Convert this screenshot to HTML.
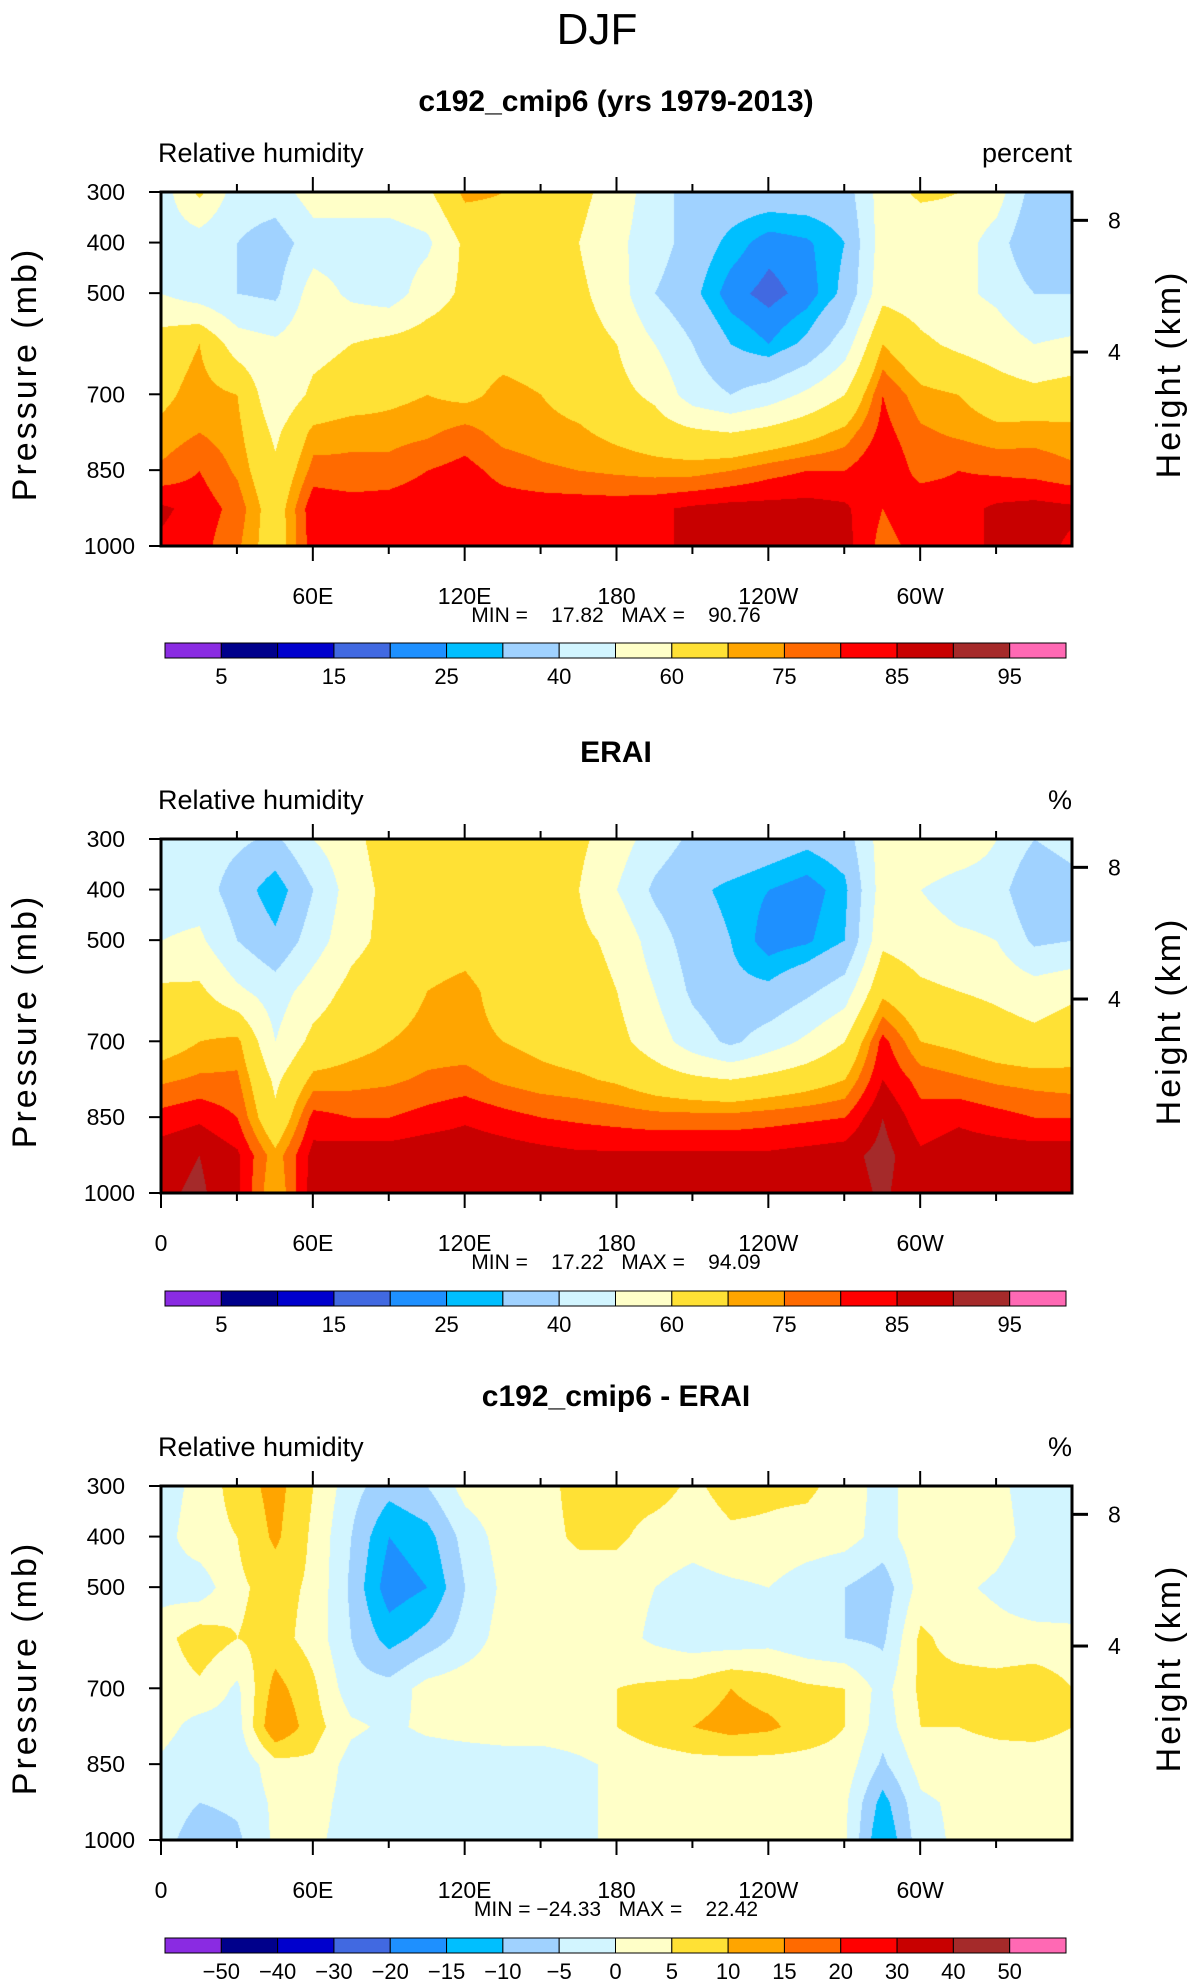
<!DOCTYPE html>
<html><head><meta charset="utf-8">
<style>
html,body{margin:0;padding:0;background:#fff;}
#wrap{position:relative;width:1196px;height:1987px;overflow:hidden;}
canvas{position:absolute;}
svg{position:absolute;left:0;top:0;}
text{font-family:"Liberation Sans",sans-serif;fill:#000;}
.pre{white-space:pre;}
</style></head><body>
<div id="wrap">
<canvas id="c0"></canvas>
<canvas id="c1"></canvas>
<canvas id="c2"></canvas>
<svg id="s" width="1196" height="1987"></svg>
</div>
<script>
const lons=[0,15,30,45,60,75,90,105,120,135,150,165,180,195,210,225,240,255,270,285,300,315,330,345,360];
const pLevels=[300,400,500,600,700,775,850,925,1000];
const modelRH=[
[45,62,45,45,55,55,55,58,72,70,65,63,55,45,35,35,35,35,35,55,62,60,55,35,35],
[45,45,40,35,45,45,45,48,62,65,65,60,52,45,35,28,22,24,30,55,52,55,45,30,35],
[50,45,40,38,55,48,45,55,62,65,65,62,55,40,32,22,18,22,32,57,55,52,48,40,40],
[65,70,55,52,57,60,63,65,66,67,66,64,60,50,40,30,25,32,45,70,62,58,55,50,52],
[68,73,70,52,62,65,68,70,68,72,70,67,63,58,45,40,45,52,60,80,72,70,65,63,65],
[72,75,72,58,72,74,73,74,77,73,72,71,68,65,62,60,63,67,72,82,76,74,72,73,72],
[76,80,74,62,77,76,77,80,82,78,76,75,74,73,73,75,78,80,80,85,78,80,79,78,76],
[86,83,78,65,84,83,83,84,84,83,83,83,83,84,86,87,87,87,86,80,84,83,86,87,86],
[84,82,76,65,83,82,80,82,83,83,83,83,83,84,86,87,87,87,87,78,82,83,86,87,84]];
const eraiRH=[
[50,45,42,38,50,57,65,65,68,64,64,62,55,45,38,38,35,32,35,55,60,58,50,40,45],
[45,45,35,25,40,55,63,65,66,64,64,60,50,38,32,28,25,22,28,55,50,45,45,30,35],
[50,52,40,32,45,57,63,66,67,64,64,62,58,45,35,30,22,24,30,58,55,52,50,38,40],
[62,62,52,45,55,63,66,70,72,67,66,64,60,50,38,32,32,38,45,68,62,60,58,55,58],
[66,70,72,50,63,67,70,72,72,70,68,66,63,55,45,38,45,52,60,82,70,68,65,63,66],
[74,76,76,58,72,73,74,76,77,74,72,71,69,65,62,60,63,66,70,85,78,76,74,73,72],
[82,84,80,62,82,80,80,82,84,82,80,79,78,77,77,77,78,79,80,90,82,84,82,80,80],
[88,90,86,72,87,88,88,89,89,88,87,86,86,86,86,86,86,87,88,92,86,88,88,88,88],
[89,91,86,70,88,89,89,89,89,88,87,87,87,87,87,87,87,87,87,91,86,89,88,89,89]];
const diffRH=[
[-3,2,7,12,5,-3,-8,-5,2,3,3,7,7,7,4,7,6,6,3,-2,3,3,1,-2,-3],
[-2,3,5,11,4,-5,-15,-12,-3,2,3,6,6,3,2,4,4,3,2,-2,3,4,2,-2,-2],
[-2,-3,4,7,4,-6,-18,-15,-5,1,2,2,2,0,-2,-1,0,-3,-5,-8,2,1,-1,-4,-5],
[3,8,5,7,3,-5,-12,-8,-3,2,2,1,2,-1,-3,-3,-2,-4,-5,-6,6,3,2,2,2],
[2,4,-1,12,6,-3,-3,2,3,3,3,3,5,6,7,10,8,6,5,-2,6,7,7,8,5],
[2,-2,-2,15,7,1,-1,1,2,3,3,3,5,8,10,12,11,8,5,-3,5,5,6,7,5],
[-1,-4,-4,3,4,-2,-3,-3,-3,-3,-3,-1,1,2,3,3,3,3,3,-6,2,3,3,2,2],
[-2,-5,-4,1,2,-2,-4,-3,-3,-3,-2,-1,1,1,1,1,1,1,1,-12,-1,1,1,1,1],
[-3,-8,-6,1,1,-2,-3,-3,-3,-3,-2,-1,1,1,1,1,1,1,1,-15,-2,1,1,1,1]];
const rhLevels=[5,10,15,20,25,30,40,50,60,70,75,80,85,90,95];
const rhLabels=["5","15","25","40","60","75","85","95"];
const diffLevels=[-50,-40,-30,-20,-15,-10,-5,0,5,10,15,20,30,40,50];
const diffLabels=["-50","-40","-30","-20","-15","-10","-5","0","5","10","15","20","30","40","50"];
const lonTicks=[60,120,180,240,300];
const lonTickLabels=["60E","120E","180","120W","60W"];
const pTicks=[300,400,500,700,850,1000];
const kmTicks=[8,4];
const colors=["#8a2be2","#00008b","#0000cd","#4169e1","#1e90ff","#00bfff","#a0d2ff","#d2f5ff","#ffffc8","#ffe135","#ffa500","#ff6a00","#ff0000","#c80000","#a52a2a","#ff69b4"];

const PX=161,PW=911,PH=354;
const panels=[
 {top:192,data:modelRH,lev:rhLevels,lab:rhLabels,title:"c192_cmip6 (yrs 1979-2013)",tY:111,units:"percent",zero:false,mm:"MIN =    17.82   MAX =    90.76",cb:643},
 {top:839,data:eraiRH,lev:rhLevels,lab:rhLabels,title:"ERAI",tY:762,units:"%",zero:true,mm:"MIN =    17.22   MAX =    94.09",cb:1291},
 {top:1486,data:diffRH,lev:diffLevels,lab:diffLabels,title:"c192_cmip6 - ERAI",tY:1406,units:"%",zero:true,mm:"MIN = \u221224.33   MAX =    22.42",cb:1938}];
function xOf(lon){return PX+lon/360*PW;}
function yOf(p,top){return top+(p-300)/700*PH;}
function kmY(km,top){const p=1013.25*Math.pow(1-km/44.33,5.255);return yOf(p,top);}
function val(data,lon,p){
  let i=Math.min(Math.floor(lon/15),lons.length-2);const fx=(lon-lons[i])/15;
  let j=0;while(j<pLevels.length-2&&p>pLevels[j+1])j++;
  const fy=(p-pLevels[j])/(pLevels[j+1]-pLevels[j]);
  const a=data[j][i],b=data[j][i+1],c=data[j+1][i],d=data[j+1][i+1];
  return (a*(1-fx)+b*fx)*(1-fy)+(c*(1-fx)+d*fx)*fy;}
function cls(v,lev){let k=0;while(k<lev.length&&v>=lev[k])k++;return k;}
panels.forEach((P,n)=>{
 const cv=document.getElementById('c'+n);cv.width=PW;cv.height=PH;
 cv.style.left=PX+'px';cv.style.top=P.top+'px';
 const ctx=cv.getContext('2d');const img=ctx.createImageData(PW,PH);
 const rgb=colors.map(c=>[parseInt(c.substr(1,2),16),parseInt(c.substr(3,2),16),parseInt(c.substr(5,2),16)]);
 for(let y=0;y<PH;y++){const p=300+y/PH*700;
  for(let x=0;x<PW;x++){const lon=x/PW*360;const c=rgb[cls(val(P.data,lon,p),P.lev)];
   const o=(y*PW+x)*4;img.data[o]=c[0];img.data[o+1]=c[1];img.data[o+2]=c[2];img.data[o+3]=255;}}
 ctx.putImageData(img,0,0);
});
const S=document.getElementById('s');const NS="http://www.w3.org/2000/svg";
function el(tag,at,txt){const e=document.createElementNS(NS,tag);for(const k in at)e.setAttribute(k,at[k]);if(txt!==undefined)e.textContent=txt;S.appendChild(e);return e;}
let t=el('text',{x:597,y:44,'font-size':44,'text-anchor':'middle'},"DJF");


panels.forEach((P,n)=>{
 const top=P.top,bot=top+PH;
 t=el('text',{x:616,y:P.tY,'font-size':30,'text-anchor':'middle','font-weight':'bold'},P.title);
 
 
 t=el('text',{x:158,y:top-30,'font-size':27},"Relative humidity");
 
 
 t=el('text',{x:1072,y:top-30,'font-size':27,'text-anchor':'end'},P.units);
 
 
 let r=el('rect',{x:PX,y:top,width:PW,height:PH,fill:'none',stroke:'#000','stroke-width':3});
 
 
 for(let lon=30;lon<360;lon+=30){const major=lon%60===0;const L=major?15:8;const x=xOf(lon);
  el('line',{x1:x,x2:x,y1:top,y2:top-L,stroke:'#000','stroke-width':2});
  el('line',{x1:x,x2:x,y1:bot,y2:bot+L,stroke:'#000','stroke-width':2});}
 if(P.zero){el('line',{x1:PX,x2:PX,y1:bot,y2:bot+15,stroke:'#000','stroke-width':2});
  t=el('text',{x:PX,y:bot+58,'font-size':23,'text-anchor':'middle'},"0");
  
  }
 lonTicks.forEach((lon,i)=>{t=el('text',{x:xOf(lon),y:bot+58,'font-size':23,'text-anchor':'middle'},lonTickLabels[i]);
  
  });
 t=el('text',{x:616,y:bot+76,'font-size':21,'text-anchor':'middle','class':'pre'},P.mm);
 
 
 pTicks.forEach(p=>{const y=yOf(p,top);el('line',{x1:PX,x2:PX-12,y1:y,y2:y,stroke:'#000','stroke-width':2});
  t=el('text',{x:PX-36+(p===1000?10:0),y:y+8,'font-size':23,'text-anchor':'end'},String(p));
  
  });
 kmTicks.forEach(k=>{const y=kmY(k,top);el('line',{x1:PX+PW,x2:PX+PW+16,y1:y,y2:y,stroke:'#000','stroke-width':3});
  t=el('text',{x:1108,y:y+8,'font-size':23},String(k));
  
  });
 t=el('text',{x:0,y:0,'font-size':34,'text-anchor':'middle',transform:`translate(36,${top+PH/2+5}) rotate(-90)`,'letter-spacing':3},"Pressure  (mb)");
 
 
 t=el('text',{x:0,y:0,'font-size':34,'text-anchor':'middle',transform:`translate(1180,${top+PH/2+5}) rotate(-90)`,'letter-spacing':3},"Height  (km)");
 
 
 const cx0=165,cw=901,bw=cw/16,cy=P.cb;
 colors.forEach((c,i)=>{r=el('rect',{x:cx0+i*bw,y:cy,width:bw,height:15,fill:c,stroke:'#000','stroke-width':1});
  
  });
 P.lab.forEach((lb,i)=>{const idx=P.lab.length===8?i*2:i;
  t=el('text',{x:cx0+(idx+1)*bw,y:cy+41,'font-size':22,'text-anchor':'middle'},lb.replace('-','\u2212'));
  
  });
});
</script>
</body></html>
